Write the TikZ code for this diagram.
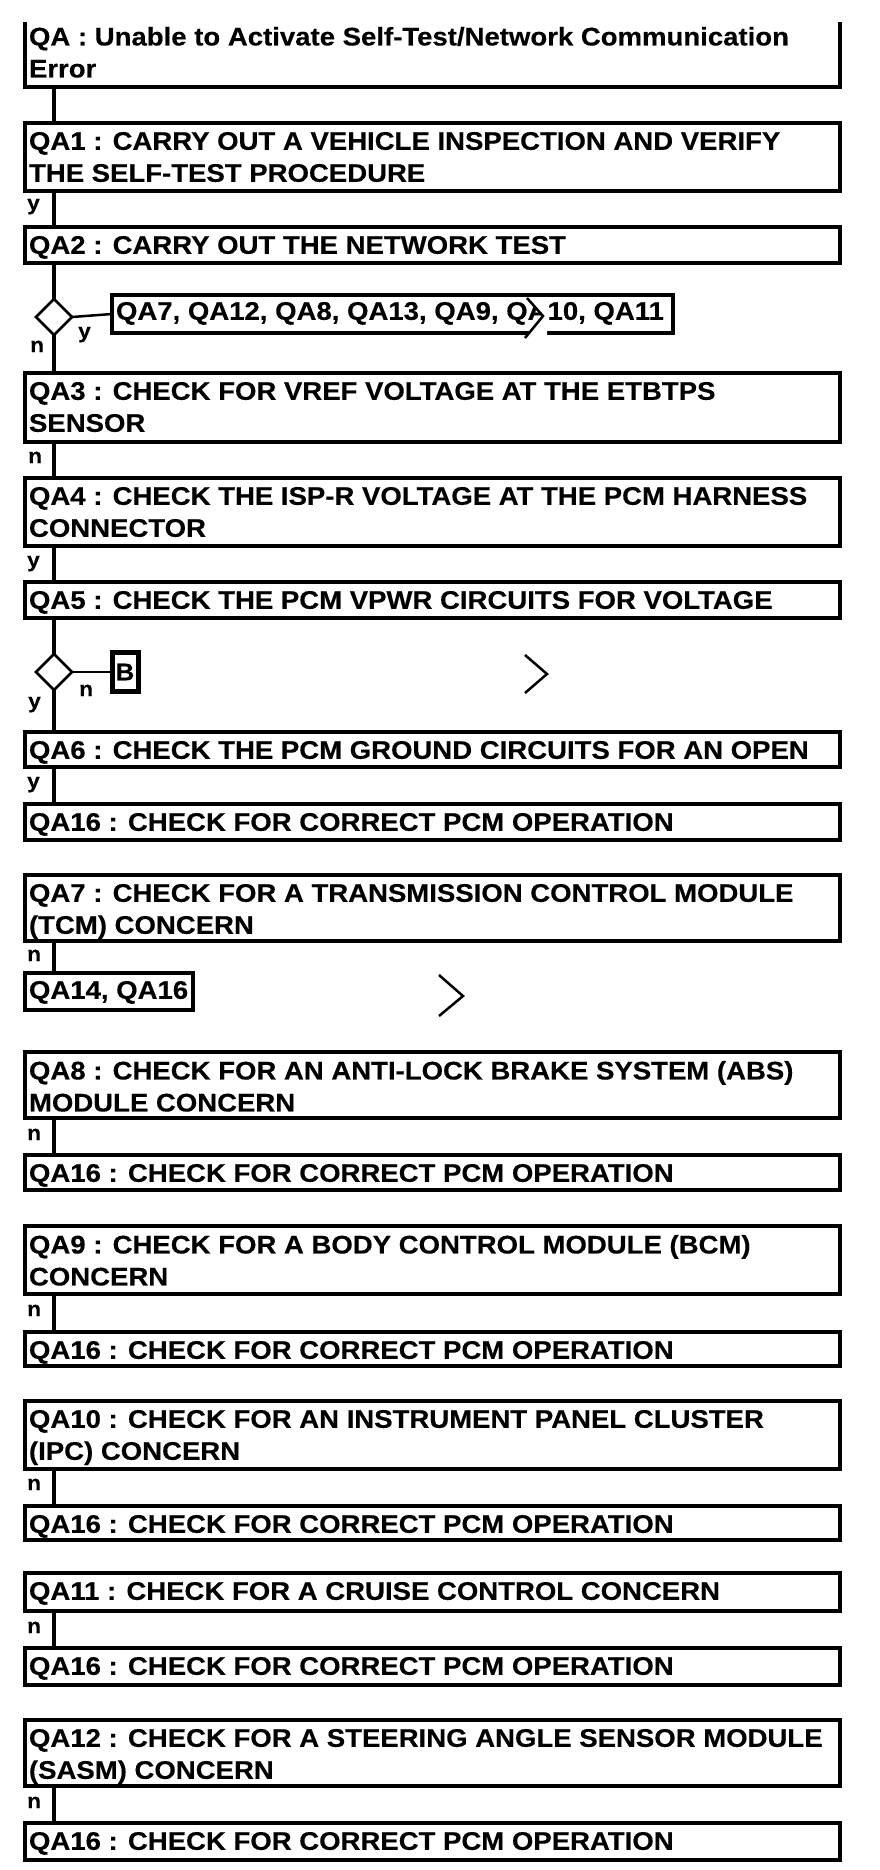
\documentclass[tikz,border=0pt]{standalone}
\usepackage{fontspec}
\setmainfont{Liberation Sans}[FakeStretch=1.08, BoldFeatures={FakeBold=0.3}]
\usetikzlibrary{shapes.geometric}
\newcommand\qbox[4]{%
  \node[box, minimum height=#3pt] (#1) at (25,#2) {};
  \node[txt] (#1t) at (29,#2+9) {#4};
}
\newcommand\vlink[2]{\draw[conn] ([xshift=29pt]#1.south west) -- ([xshift=29pt]#2.north west);}
\begin{document}
\begin{tikzpicture}[x=1pt,y=-1pt,
  box/.style={draw, line width=4pt, minimum width=815pt, inner sep=0pt, outer sep=0pt, anchor=north west},
  sbox/.style={draw, line width=4pt, inner sep=0pt, outer sep=0pt, anchor=north west},
  txt/.style={inner sep=0pt, outer sep=0pt, anchor=north west, align=left, font=\fontsize{25.5}{32}\selectfont\bfseries},
  conn/.style={line width=3.5pt},
  thinline/.style={line width=2.5pt},
  dia/.style={draw, diamond, aspect=1, minimum width=36pt, minimum height=36pt, inner sep=0pt, outer sep=0pt, line width=2.5pt},
  lbl/.style={inner sep=0pt, anchor=base west, font=\fontsize{21}{21}\selectfont\bfseries},
]
\useasboundingbox[fill=white] (0,0) rectangle (880,1870);

% QA (open top)
\node[box, draw=none, minimum height=65pt] (qa) at (25,22) {};
\draw[line width=4pt] (qa.north west) -- (qa.south west) -- (qa.south east) -- (qa.north east);
\node[txt] (qat) at (29,27) {QA : Unable to Activate Self-Test/Network Communication\\Error};

\qbox{qa1}{123}{68}{QA1 : CARRY OUT A VEHICLE INSPECTION AND VERIFY\\THE SELF-TEST PROCEDURE}
\qbox{qa2}{227}{36}{QA2 : CARRY OUT THE NETWORK TEST}
\qbox{qa3}{373}{69}{QA3 : CHECK FOR VREF VOLTAGE AT THE ETBTPS\\SENSOR}
\qbox{qa4}{478}{68}{QA4 : CHECK THE ISP-R VOLTAGE AT THE PCM HARNESS\\CONNECTOR}
\qbox{qa5}{582}{36}{QA5 : CHECK THE PCM VPWR CIRCUITS FOR VOLTAGE}
\qbox{qa6}{732}{35}{QA6 : CHECK THE PCM GROUND CIRCUITS FOR AN OPEN}
\qbox{qa16a}{804}{36}{QA16 : CHECK FOR CORRECT PCM OPERATION}
\qbox{qa7}{875}{66}{QA7 : CHECK FOR A TRANSMISSION CONTROL MODULE\\(TCM) CONCERN}
\qbox{qa8}{1052}{66}{QA8 : CHECK FOR AN ANTI-LOCK BRAKE SYSTEM (ABS)\\MODULE CONCERN}
\qbox{qa16b}{1155}{35}{QA16 : CHECK FOR CORRECT PCM OPERATION}
\qbox{qa9}{1226}{68}{QA9 : CHECK FOR A BODY CONTROL MODULE (BCM)\\CONCERN}
\qbox{qa16c}{1332}{34}{QA16 : CHECK FOR CORRECT PCM OPERATION}
\qbox{qa10}{1401}{68}{QA10 : CHECK FOR AN INSTRUMENT PANEL CLUSTER\\(IPC) CONCERN}
\qbox{qa16d}{1506}{34}{QA16 : CHECK FOR CORRECT PCM OPERATION}
\qbox{qa11}{1573}{38}{QA11 : CHECK FOR A CRUISE CONTROL CONCERN}
\qbox{qa16e}{1648}{37}{QA16 : CHECK FOR CORRECT PCM OPERATION}
\qbox{qa12}{1720}{66}{QA12 : CHECK FOR A STEERING ANGLE SENSOR MODULE\\(SASM) CONCERN}
\qbox{qa16f}{1823}{37}{QA16 : CHECK FOR CORRECT PCM OPERATION}

% small boxes
\node[sbox, minimum width=561pt, minimum height=38pt] (lst) at (112,295) {};
\node[txt] (lstt) at (116,302) {QA7, QA12, QA8, QA13, QA9, QA10, QA11};
\node[sbox, minimum width=168pt, minimum height=37pt] (qa14) at (25,973) {};
\node[txt] (qa14t) at (29,981) {QA14, QA16};
\node[draw, line width=5pt, inner sep=0pt, outer sep=0pt, minimum width=26pt, minimum height=39pt,
      font=\fontsize{24}{24}\selectfont\bfseries] (bb) at (125,672) {B};

% diamonds
\node[dia] (d1) at (54,317) {};
\node[dia] (d2) at (54,672) {};

% connectors
\vlink{qa}{qa1}
\vlink{qa1}{qa2}
\draw[conn] ([xshift=29pt]qa2.south west) -- (d1.north);
\draw[conn] (d1.south) -- ([xshift=29pt]qa3.north west);
\draw[thinline] (d1.east) -- (lst.west);
\vlink{qa3}{qa4}
\vlink{qa4}{qa5}
\draw[conn] ([xshift=29pt]qa5.south west) -- (d2.north);
\draw[conn] (d2.south) -- ([xshift=29pt]qa6.north west);
\draw[thinline] (d2.east) -- (bb.west);
\vlink{qa6}{qa16a}
\vlink{qa7}{qa14}
\vlink{qa8}{qa16b}
\vlink{qa9}{qa16c}
\vlink{qa10}{qa16d}
\vlink{qa11}{qa16e}
\vlink{qa12}{qa16f}

% labels
\node[lbl] (l1) at (27,210) {y};
\node[lbl] (l2) at (78,338) {y};
\node[lbl] (l3) at (30,352) {n};
\node[lbl] (l4) at (28,463) {n};
\node[lbl] (l5) at (27,567) {y};
\node[lbl] (l6) at (79,696) {n};
\node[lbl] (l7) at (28,708) {y};
\node[lbl] (l8) at (27,788) {y};
\node[lbl] (l9) at (27,961) {n};
\node[lbl] (l10) at (27,1140) {n};
\node[lbl] (l11) at (27,1316) {n};
\node[lbl] (l12) at (27,1490) {n};
\node[lbl] (l13) at (27,1633) {n};
\node[lbl] (l14) at (27,1808) {n};

% chevrons
\fill[white] (527,297) -- (543,316) -- (525,338) -- (547,338) -- (547,297) -- cycle;
\draw[thinline] (527,298) -- (543,316) -- (525,338);
\draw[thinline] (525,655) -- (547,674) -- (525,693);
\draw[thinline] (439,975) -- (463,996) -- (439,1016);
\end{tikzpicture}
\end{document}
